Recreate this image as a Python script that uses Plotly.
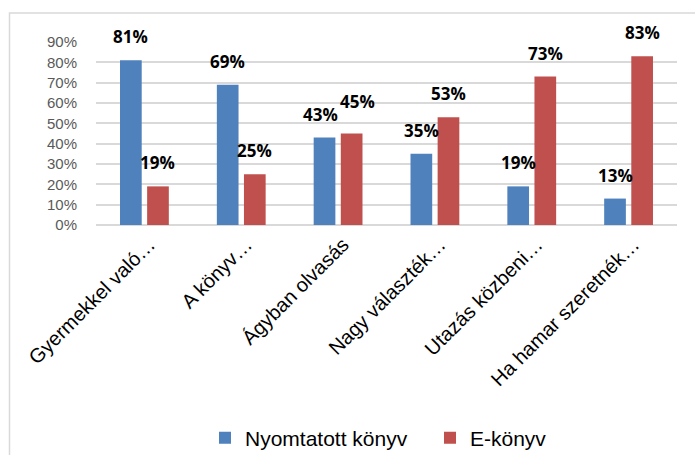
import plotly.graph_objects as go

categories = ["Gyermekkel való…", "A könyv…", "Ágyban olvasás", "Nagy választék…", "Utazás közbeni…", "Ha hamar szeretnék…"]
print_vals = [0.81, 0.69, 0.43, 0.35, 0.19, 0.13]
ebook_vals = [0.19, 0.25, 0.45, 0.53, 0.73, 0.83]
series_names = ["Nyomtatott könyv", "E-könyv"]
tick_vals = [0, 0.1, 0.2, 0.3, 0.4, 0.5, 0.6, 0.7, 0.8, 0.9]
tick_text = ["0%", "10%", "20%", "30%", "40%", "50%", "60%", "70%", "80%", "90%"]

colors = ["#4F81BD", "#C0504D"]
# manual label nudges (series index, category index) -> (dx px, dy px)
label_nudge = {(0, 2): (-4, 0), (1, 2): (6, 9)}

fig = go.Figure()
for name, vals, col in zip(series_names, [print_vals, ebook_vals], colors):
    fig.add_trace(go.Bar(x=categories, y=vals, name=name, marker=dict(color=col, line=dict(width=0))))

# data labels
annotations = []
for si, (vals, shift) in enumerate([(print_vals, -13.5), (ebook_vals, 13.5)]):
    for ci, (c, v) in enumerate(zip(categories, vals)):
        dx, dy = label_nudge.get((si, ci), (0, 0))
        annotations.append(dict(x=c, y=v, xref="x", yref="y", text=f"{round(v*100)}%",
                                showarrow=False, yanchor="bottom", xanchor="center",
                                xshift=shift + dx, yshift=10 + dy,
                                font=dict(family="Open Sans", size=17, color="#000000", weight="bold")))

W, H = 695, 455
L, R, T, B = 96, 18, 42, 230
pw = W - L - R
ph = H - T - B

def px2x(px):
    return (px - L) / pw

def py2y(py):
    return (H - B - py) / ph

fig.update_layout(
    width=W, height=H,
    margin=dict(l=L, r=R, t=T, b=B, autoexpand=False),
    paper_bgcolor="white", plot_bgcolor="white",
    barmode="group", bargap=0.44, bargroupgap=0.2,
    annotations=annotations,
    showlegend=True,
    legend=dict(orientation="h", x=px2x(205), xanchor="left", y=py2y(438), yanchor="middle",
                font=dict(family="Liberation Sans, Arial", size=21, color="#000000"),
                traceorder="normal", entrywidth=180, entrywidthmode="pixels"),
    shapes=[dict(type="rect", xref="paper", yref="paper",
                 x0=px2x(9.5), x1=px2x(710), y0=py2y(470), y1=py2y(13),
                 line=dict(color="#D9D9D9", width=1.5), fillcolor="rgba(0,0,0,0)", layer="below")],
    xaxis=dict(showgrid=False, showline=False, ticks="", tickangle=-45,
               ticklabelshift=5, ticklabelstandoff=3,
               tickfont=dict(family="Liberation Sans, Arial", size=20, color="#000000"), automargin=False),
    yaxis=dict(range=[0, 0.9], tickvals=tick_vals, ticktext=tick_text, showgrid=True,
               gridcolor="#D9D9D9", gridwidth=1.5, zeroline=True, zerolinecolor="#D9D9D9", zerolinewidth=1.5,
               showline=False, ticks="", ticklabelstandoff=18,
               tickfont=dict(family="Liberation Sans, Arial", size=15, color="#595959"), automargin=False),
)

fig.write_html("out.html", post_script="document.body.style.margin='0px';",
               config={"displayModeBar": False})
